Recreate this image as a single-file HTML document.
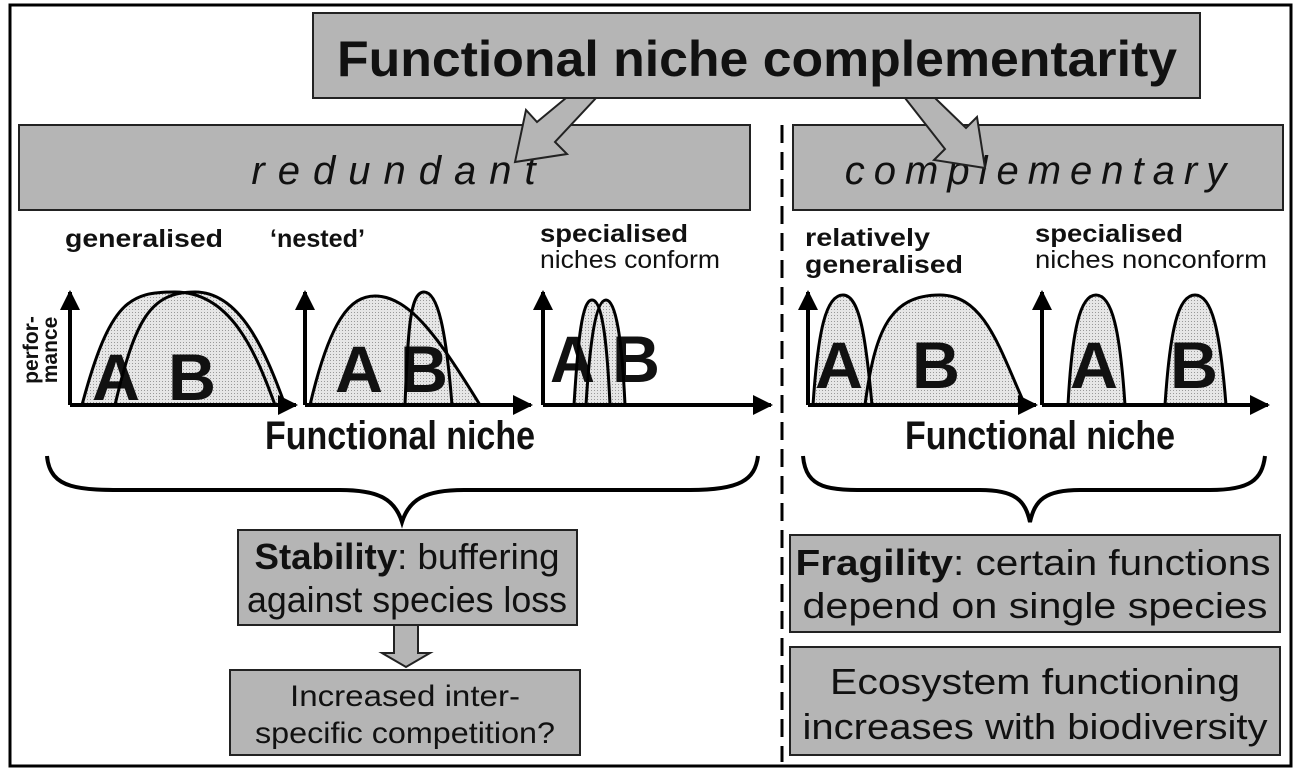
<!DOCTYPE html>
<html><head><meta charset="utf-8"><style>
html,body{margin:0;padding:0;background:#fff}
svg{display:block}
text{font-family:"Liberation Sans",Arial,sans-serif;fill:#111}
</style></head><body>
<svg width="1301" height="772" viewBox="0 0 1301 772" xmlns="http://www.w3.org/2000/svg">
<defs>
<pattern id="dots" width="3" height="3" patternUnits="userSpaceOnUse">
<rect width="3" height="3" fill="#e6e6e6"/><rect width="1" height="1" fill="#999"/>
</pattern>
<marker id="ah" viewBox="0 0 10 10" refX="9" refY="5" markerWidth="5" markerHeight="5" orient="auto">
<path d="M0,0 L10,5 L0,10 z" fill="#000"/></marker>
</defs>
<rect x="10" y="5" width="1281" height="761" fill="#fff" stroke="#000" stroke-width="3"/>

<rect x="313" y="13" width="887" height="85" fill="#b5b5b5" stroke="#222" stroke-width="2"/>
<text x="757" y="76" font-size="50" font-weight="bold" text-anchor="middle" textLength="840" lengthAdjust="spacingAndGlyphs">Functional niche complementarity</text>

<rect x="19" y="125" width="731" height="85" fill="#b5b5b5" stroke="#222" stroke-width="2"/>
<text x="400" y="184" font-size="40" font-style="italic" text-anchor="middle" letter-spacing="13">redundant</text>
<rect x="793" y="125" width="490" height="85" fill="#b5b5b5" stroke="#222" stroke-width="2"/>
<text x="1040" y="184" font-size="40" font-style="italic" text-anchor="middle" letter-spacing="9">complementary</text>

<path d="M566,98 L596,98 L555,142 L567,154 L515,162 L526,110 L537,122 Z" fill="#b5b5b5" stroke="#222" stroke-width="2"/>
<path d="M905,98 L935,98 L966,128 L977,117 L985,168 L934,160 L945,149 Z" fill="#b5b5b5" stroke="#222" stroke-width="2"/>

<line x1="782" y1="125" x2="782" y2="762" stroke="#000" stroke-width="3" stroke-dasharray="18,9"/>

<g font-size="25" font-weight="bold">
<text x="65" y="247" textLength="158" lengthAdjust="spacingAndGlyphs">generalised</text>
<text x="270" y="247" textLength="95" lengthAdjust="spacingAndGlyphs">‘nested’</text>
<text x="540" y="242" textLength="148" lengthAdjust="spacingAndGlyphs">specialised</text>
<text x="805" y="246" textLength="125" lengthAdjust="spacingAndGlyphs">relatively</text>
<text x="805" y="273" textLength="158" lengthAdjust="spacingAndGlyphs">generalised</text>
<text x="1035" y="242" textLength="148" lengthAdjust="spacingAndGlyphs">specialised</text>
</g>
<text x="540" y="268" font-size="25" textLength="180" lengthAdjust="spacingAndGlyphs">niches conform</text>
<text x="1035" y="268" font-size="25" textLength="232" lengthAdjust="spacingAndGlyphs">niches nonconform</text>

<text transform="translate(38,350) rotate(-90)" font-size="21" font-weight="bold" text-anchor="middle">perfor-</text>
<text transform="translate(57,350) rotate(-90)" font-size="21" font-weight="bold" text-anchor="middle">mance</text>

<g fill="url(#dots)" stroke="none">
<path d="M82,405 C110,300 130,292 175,292 C230,292 255,350 275,405 Z"/>
<path d="M115,405 C135,320 150,292 195,292 C240,292 265,350 285,405 Z"/>
<path d="M310,405 C330,320 350,296 375,296 C410,296 440,340 480,405 Z"/>
<path d="M405,405 C408,330 410,292 424,292 C438,292 446,330 452,405 Z"/>
<path d="M574,405 C578,340 582,300 592,300 C602,300 607,340 610,405 Z"/>
<path d="M586,405 C590,340 596,300 606,300 C616,300 622,340 625,405 Z"/>
<path d="M813,405 C818,330 826,295 843,295 C860,295 866,340 872,405 Z"/>
<path d="M865,405 C875,330 890,295 940,295 C985,295 1000,350 1025,405 Z"/>
<path d="M1068,405 C1072,330 1080,295 1096,295 C1112,295 1120,330 1125,405 Z"/>
<path d="M1165,405 C1170,330 1178,295 1195,295 C1212,295 1220,330 1226,405 Z"/>
</g>
<g font-size="66" font-weight="bold" fill="#1a1a1a">
<text x="92" y="400" textLength="48" lengthAdjust="spacingAndGlyphs">A</text><text x="168" y="400" textLength="48" lengthAdjust="spacingAndGlyphs">B</text>
<text x="335" y="392" fill="#333" textLength="48" lengthAdjust="spacingAndGlyphs">A</text><text x="400" y="392" fill="#333" textLength="48" lengthAdjust="spacingAndGlyphs">B</text>
<text x="550" y="382" textLength="45" lengthAdjust="spacingAndGlyphs">A</text><text x="612" y="382" textLength="48" lengthAdjust="spacingAndGlyphs">B</text>
<text x="815" y="388" fill="#222" textLength="48" lengthAdjust="spacingAndGlyphs">A</text><text x="912" y="388" textLength="48" lengthAdjust="spacingAndGlyphs">B</text>
<text x="1070" y="388" fill="#222" textLength="48" lengthAdjust="spacingAndGlyphs">A</text><text x="1170" y="388" textLength="48" lengthAdjust="spacingAndGlyphs">B</text>
</g>
<g fill="none" stroke="#000" stroke-width="3">
<path d="M82,405 C110,300 130,292 175,292 C230,292 255,350 275,405"/>
<path d="M115,405 C135,320 150,292 195,292 C240,292 265,350 285,405"/>
<path d="M310,405 C330,320 350,296 375,296 C410,296 440,340 480,405"/>
<path d="M405,405 C408,330 410,292 424,292 C438,292 446,330 452,405"/>
<path d="M574,405 C578,340 582,300 592,300 C602,300 607,340 610,405"/>
<path d="M586,405 C590,340 596,300 606,300 C616,300 622,340 625,405"/>
<path d="M813,405 C818,330 826,295 843,295 C860,295 866,340 872,405"/>
<path d="M865,405 C875,330 890,295 940,295 C985,295 1000,350 1025,405"/>
<path d="M1068,405 C1072,330 1080,295 1096,295 C1112,295 1120,330 1125,405"/>
<path d="M1165,405 C1170,330 1178,295 1195,295 C1212,295 1220,330 1226,405"/>
</g>
<g stroke="#000" stroke-width="4" marker-end="url(#ah)" fill="none">
<path d="M70,405 L70,292"/><path d="M70,405 L296,405"/>
<path d="M305,405 L305,292"/><path d="M305,405 L531,405"/>
<path d="M543,405 L543,292"/><path d="M543,405 L771,405"/>
<path d="M808,405 L808,292"/><path d="M808,405 L1036,405"/>
<path d="M1042,405 L1042,292"/><path d="M1042,405 L1268,405"/>
</g>

<text x="400" y="449" font-size="40" font-weight="bold" text-anchor="middle" textLength="270" lengthAdjust="spacingAndGlyphs">Functional niche</text>
<text x="1040" y="449" font-size="40" font-weight="bold" text-anchor="middle" textLength="270" lengthAdjust="spacingAndGlyphs">Functional niche</text>

<path d="M47,456 C50,490 80,490 130,490 L340,490 C380,490 395,500 402,522 C409,500 424,490 464,490 L690,490 C740,490 755,480 758,456" fill="none" stroke="#000" stroke-width="4"/>
<path d="M803,456 C806,490 830,490 870,490 L980,490 C1015,490 1025,500 1030,522 C1035,500 1045,490 1080,490 L1210,490 C1250,490 1262,480 1265,456" fill="none" stroke="#000" stroke-width="4"/>

<rect x="238" y="530" width="339" height="95" fill="#b5b5b5" stroke="#222" stroke-width="2"/>
<text x="407" y="569" font-size="36" text-anchor="middle" textLength="305" lengthAdjust="spacingAndGlyphs"><tspan font-weight="bold">Stability</tspan>: buffering</text>
<text x="407" y="612" font-size="36" text-anchor="middle" textLength="320" lengthAdjust="spacingAndGlyphs">against species loss</text>

<path d="M394,625 L418,625 L418,653 L430,653 L406,667 L382,653 L394,653 Z" fill="#b5b5b5" stroke="#222" stroke-width="2"/>

<rect x="230" y="670" width="350" height="85" fill="#b5b5b5" stroke="#222" stroke-width="2"/>
<text x="405" y="706" font-size="30" text-anchor="middle" textLength="230" lengthAdjust="spacingAndGlyphs">Increased inter-</text>
<text x="405" y="743" font-size="30" text-anchor="middle" textLength="300" lengthAdjust="spacingAndGlyphs">specific competition?</text>

<rect x="790" y="535" width="490" height="97" fill="#b5b5b5" stroke="#222" stroke-width="2"/>
<text x="1033" y="575" font-size="36" text-anchor="middle" textLength="475" lengthAdjust="spacingAndGlyphs"><tspan font-weight="bold">Fragility</tspan>: certain functions</text>
<text x="1035" y="618" font-size="36" text-anchor="middle" textLength="465" lengthAdjust="spacingAndGlyphs">depend on single species</text>

<rect x="790" y="647" width="490" height="108" fill="#b5b5b5" stroke="#222" stroke-width="2"/>
<text x="1035" y="694" font-size="36" text-anchor="middle" textLength="410" lengthAdjust="spacingAndGlyphs">Ecosystem functioning</text>
<text x="1035" y="739" font-size="36" text-anchor="middle" textLength="465" lengthAdjust="spacingAndGlyphs">increases with biodiversity</text>
</svg>
</body></html>
